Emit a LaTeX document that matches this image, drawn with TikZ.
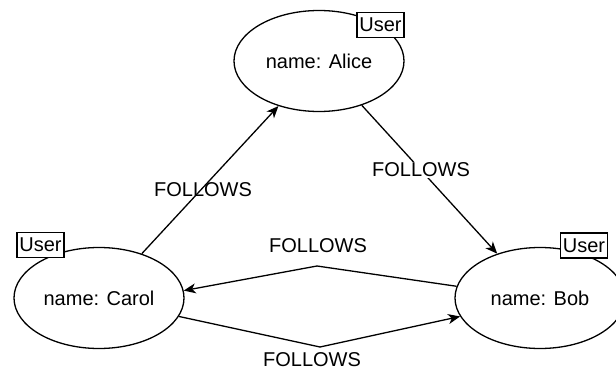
\documentclass[tikz,border=0pt]{standalone}
\usepackage{fontspec}
\setmainfont{Liberation Sans}
\usetikzlibrary{shapes.geometric,arrows.meta}
\begin{document}
\begin{tikzpicture}[x=1pt,y=-1pt,
  entity/.style={ellipse,draw,line width=1.3pt,fill=white,minimum width=170,minimum height=101,inner sep=0,font=\fontsize{20}{24}\selectfont},
  tagbox/.style={draw,line width=1.3pt,fill=white,minimum width=47,minimum height=25,inner sep=0,font=\fontsize{20}{24}\selectfont},
  rel/.style={line width=1.3pt,-{Stealth[length=12pt,width=10pt,inset=3.5pt]}},
  lbl/.style={font=\fontsize{20}{24}\selectfont,inner sep=1pt}]
\fill[white] (0,0) rectangle (616,372);
\clip (0,0) rectangle (616,372);

% user nodes
\node[entity] (alice) at (319,61) {name: Alice};
\node[entity] (carol) at (99,298) {name: Carol};
\node[entity] (bob) at (540,298) {name: Bob};

% label tags
\node[tagbox] (ta) at (380.5,25) {User};
\node[tagbox] (tc) at (40.5,245) {User};
\node[tagbox] (tb) at (584,245.5) {User};

% FOLLOWS relationships
\coordinate (m1) at (317,266);
\coordinate (m2) at (320,347);
\draw[rel] (carol.46) -- (alice.228);
\draw[rel] (alice.314) -- (bob.134);
\draw[rel] (bob.172) -- (m1) -- (carol.5);
\draw[rel] (carol.347) -- (m2) -- (bob.193);

\node[lbl] (l1) at (203,190) {FOLLOWS};
\node[lbl,fill=white] (l2) at (421,170) {FOLLOWS};
\node[lbl] (l3) at (318,246) {FOLLOWS};
\node[lbl] (l4) at (312,360) {FOLLOWS};
\end{tikzpicture}
\end{document}
